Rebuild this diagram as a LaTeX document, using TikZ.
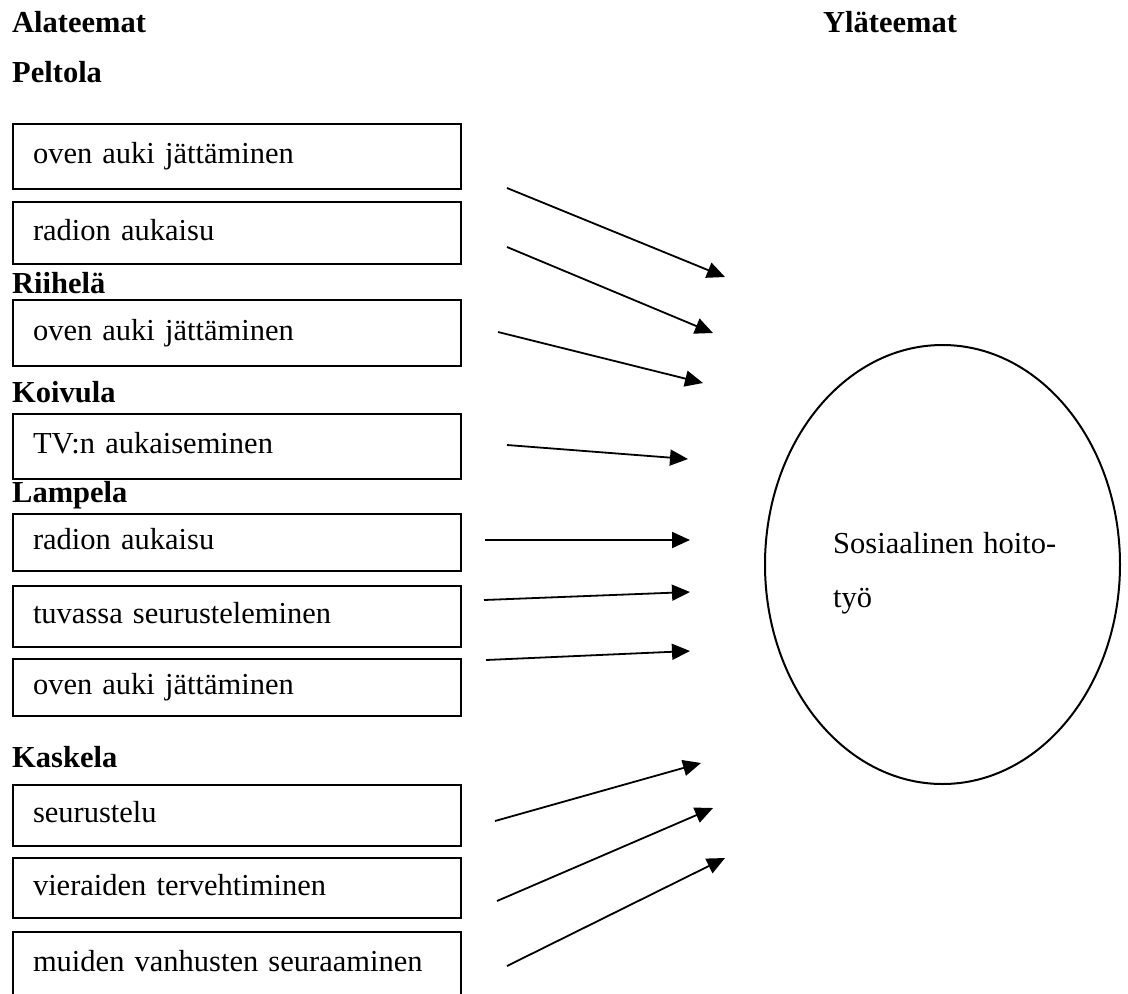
\documentclass[tikz,border=0pt]{standalone}
\usepackage{fontspec}
\setmainfont{Liberation Serif}
\usetikzlibrary{arrows.meta,shapes.geometric}

\newcommand{\perusfontti}{\fontsize{30.5}{36}\selectfont}

\tikzset{
	alabox/.style={draw=black, line width=2pt, anchor=north west, inner xsep=20pt, inner ysep=0pt,
		text width=408pt, align=left, text height=21pt, text depth=7pt},
	otsikko/.style={font=\perusfontti\bfseries, inner sep=0pt, anchor=base west},
	yhteys/.style={line width=1.8pt, -{Triangle[length=18pt,width=16pt]}}
}

% box of one sub-theme: name, text, top, bottom
\newcommand{\alateema}[4]{
	\node[alabox, minimum height={(#4-#3)*1pt}] (#1) at (12, #3) {#2};
}

\begin{document}
\begin{tikzpicture}[x=1pt,y=-1pt,font=\perusfontti]
				\path[use as bounding box, clip] (0,0) rectangle (1128,994);

				\node[otsikko] (alateemat) at (12,32) {Alateemat};
				\node[otsikko] (ylateemat) at (823,32) {Yläteemat};

				\node[otsikko] (peltola) at (12,82) {Peltola};
				\alateema{ala1}{oven auki jättäminen}{123}{188}
				\alateema{ala2}{radion aukaisu}{201}{263}
				\node[otsikko] (riihela) at (12,293) {Riihelä};
				\alateema{ala3}{oven auki jättäminen}{299}{365}
				\node[otsikko] (koivula) at (12,402) {Koivula};
				\alateema{ala4}{TV:n aukaiseminen}{413}{478}
				\node[otsikko] (lampela) at (12,502) {Lampela};
				\alateema{ala5}{radion aukaisu}{513}{570}
				\alateema{ala6}{tuvassa seurusteleminen}{585}{646}
				\alateema{ala7}{oven auki jättäminen}{658}{715}
				\node[otsikko] (kaskela) at (12,767) {Kaskela};
				\alateema{ala8}{seurustelu}{784}{845}
				\alateema{ala9}{vieraiden tervehtiminen}{857}{917}
				\alateema{ala10}{muiden vanhusten seuraaminen}{931}{996}

				% upper theme
				\node[draw=black, line width=2pt, ellipse, minimum width=355pt, minimum height=439pt] (ylateema) at (942.5,564.5) {};
				\node[inner sep=0pt, anchor=base west] (ylateksti1) at (833,553) {\makebox[223pt][s]{Sosiaalinen hoito-}};
				\node[inner sep=0pt, anchor=base west] (ylateksti2) at (833,607) {työ};

				% arrows
				\foreach \sx/\sy/\ex/\ey [count=\i] in {507/188/725/277, 507/247/713/333, 498/332/703/383,
					507/445/688/459, 485/540/690/540, 484/600/690/592, 486/660/690/651,
					495/821/701/763, 497/901/713/808, 507/966/725/858}
				{
					\coordinate (lahto\i) at (\sx,\sy);
					\coordinate (kohde\i) at (\ex,\ey);
					\draw[yhteys] (lahto\i) -- (kohde\i);
				}
			\end{tikzpicture}
\end{document}
